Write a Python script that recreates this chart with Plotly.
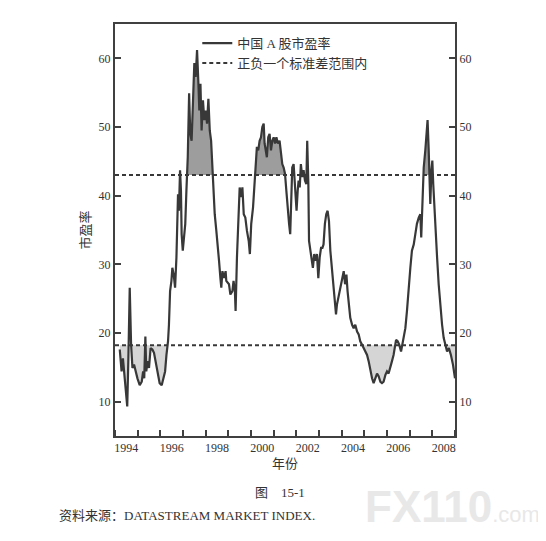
import plotly.graph_objects as go

# ---- data (decimal years, P/E) ----
YEARS = [
    1994.21, 1994.29, 1994.35, 1994.41, 1994.54, 1994.59, 1994.65, 1994.71, 1994.77, 1994.84,
    1994.91, 1994.99, 1995.09, 1995.18, 1995.24, 1995.29, 1995.34, 1995.38, 1995.44, 1995.50,
    1995.57, 1995.65, 1995.72, 1995.79, 1995.87, 1995.97, 1996.06, 1996.13, 1996.21, 1996.27,
    1996.34, 1996.38, 1996.43, 1996.49, 1996.53, 1996.59, 1996.65, 1996.71, 1996.75, 1996.78,
    1996.82, 1996.87, 1996.91, 1996.94, 1996.99, 1997.04, 1997.10, 1997.15, 1997.21, 1997.27,
    1997.32, 1997.38, 1997.44, 1997.50, 1997.56, 1997.62, 1997.68, 1997.72, 1997.77, 1997.82,
    1997.88, 1997.94, 1998.00, 1998.06, 1998.12, 1998.18, 1998.24, 1998.29, 1998.34, 1998.40,
    1998.47, 1998.53, 1998.59, 1998.65, 1998.69, 1998.74, 1998.81, 1998.88, 1998.91, 1999.03,
    1999.09, 1999.18, 1999.23, 1999.29, 1999.32, 1999.38, 1999.44, 1999.50, 1999.56, 1999.62,
    1999.68, 1999.75, 1999.82, 1999.90, 1999.95, 2000.01, 2000.09, 2000.15, 2000.20, 2000.26,
    2000.32, 2000.38, 2000.44, 2000.50, 2000.56, 2000.60, 2000.65, 2000.70, 2000.76, 2000.82,
    2000.88, 2000.94, 2001.00, 2001.06, 2001.12, 2001.19, 2001.26, 2001.32, 2001.38, 2001.44,
    2001.50, 2001.56, 2001.62, 2001.68, 2001.73, 2001.78, 2001.82, 2001.88, 2001.93, 2001.97,
    2002.01, 2002.06, 2002.10, 2002.15, 2002.20, 2002.26, 2002.32, 2002.38, 2002.44, 2002.48,
    2002.53, 2002.56, 2002.62, 2002.68, 2002.73, 2002.79, 2002.85, 2002.91, 2002.97, 2003.03,
    2003.09, 2003.15, 2003.20, 2003.26, 2003.32, 2003.38, 2003.44, 2003.50, 2003.56, 2003.62,
    2003.69, 2003.75, 2003.79, 2003.85, 2003.91, 2004.01, 2004.09, 2004.15, 2004.21, 2004.26,
    2004.32, 2004.38, 2004.46, 2004.53, 2004.60, 2004.68, 2004.75, 2004.82, 2004.90, 2004.97,
    2005.04, 2005.12, 2005.19, 2005.26, 2005.34, 2005.41, 2005.48, 2005.56, 2005.63, 2005.71,
    2005.78, 2005.85, 2005.93, 2006.00, 2006.07, 2006.15, 2006.22, 2006.29, 2006.34, 2006.40,
    2006.47, 2006.54, 2006.62, 2006.68, 2006.73, 2006.81, 2006.88, 2006.96, 2007.03, 2007.10,
    2007.18, 2007.25, 2007.32, 2007.40, 2007.47, 2007.51, 2007.56, 2007.62, 2007.69, 2007.73,
    2007.79, 2007.84, 2007.88, 2007.91, 2007.96, 2008.00, 2008.04, 2008.09, 2008.15, 2008.21,
    2008.28, 2008.35, 2008.43, 2008.50, 2008.59, 2008.65, 2008.73, 2008.82, 2008.91, 2009.00,
]
PE = [
    17.6, 14.4, 16.3, 14.4, 9.3, 16.3, 26.6, 18.3, 14.9, 15.4,
    14.4, 13.4, 12.4, 12.9, 14.4, 13.4, 19.5, 14.4, 15.9, 14.9,
    17.8, 17.6, 17.1, 15.9, 14.4, 12.7, 12.4, 13.4, 14.4, 16.8,
    18.8, 21.2, 26.1, 27.6, 29.5, 28.5, 26.6, 31.0, 35.9, 40.2,
    37.8, 43.7, 40.7, 34.4, 32.0, 33.4, 35.9, 40.7, 45.6, 54.9,
    49.0, 48.0, 54.4, 59.3, 57.3, 61.2, 56.3, 52.4, 56.3, 49.5,
    53.9, 51.0, 52.4, 50.5, 54.1, 49.5, 48.0, 44.6, 41.7, 37.3,
    34.9, 32.0, 30.5, 28.0, 26.6, 29.0, 28.0, 29.0, 27.6, 27.1,
    25.6, 26.1, 27.6, 26.1, 23.2, 31.0, 37.8, 41.2, 39.8, 41.2,
    37.3, 36.8, 34.9, 33.4, 31.5, 35.9, 38.3, 41.7, 44.6, 47.1,
    46.6, 48.0, 48.5, 50.0, 50.5, 47.6, 46.6, 45.6, 48.5, 49.0,
    46.6, 48.0, 48.5, 47.6, 48.5, 47.6, 48.0, 46.1, 44.6, 44.1,
    43.2, 40.7, 37.8, 35.9, 34.4, 40.7, 44.1, 44.6, 41.7, 39.8,
    37.8, 40.7, 42.2, 41.2, 44.6, 42.7, 43.7, 42.2, 41.7, 48.0,
    41.7, 33.4, 32.0, 31.0, 29.5, 31.5, 30.5, 31.5, 28.0, 31.0,
    32.4, 32.4, 32.9, 35.9, 37.3, 37.8, 36.3, 32.0, 29.5, 27.1,
    25.1, 22.7, 24.1, 25.1, 26.1, 28.0, 29.0, 27.1, 28.5, 26.1,
    23.7, 22.2, 21.2, 20.7, 21.2, 20.2, 19.8, 18.8, 18.3, 17.8,
    17.3, 16.8, 15.9, 14.4, 13.4, 12.7, 13.4, 14.1, 13.7, 12.9,
    12.7, 12.9, 13.9, 14.4, 14.1, 14.9, 15.9, 16.8, 18.0, 19.0,
    18.8, 18.3, 17.3, 18.3, 19.3, 20.7, 23.2, 27.1, 29.5, 32.0,
    32.9, 34.4, 35.9, 36.8, 37.3, 33.9, 39.8, 44.1, 46.6, 48.5,
    51.0, 46.6, 42.2, 38.8, 43.7, 45.1, 41.7, 37.8, 33.9, 31.0,
    27.1, 24.1, 21.2, 19.3, 18.3, 17.3, 17.8, 16.8, 15.4, 13.4,
]
BAND_UPPER = 43.0
BAND_LOWER = 18.2
X_RANGE = [1994, 2009]
Y_RANGE = [5, 65]
Y_TICKS = [10, 20, 30, 40, 50, 60]
X_LABEL_YEARS = [1994, 1996, 1998, 2000, 2002, 2004, 2006, 2008]
X_LABELS = [str(y) for y in X_LABEL_YEARS]

SERIES_NAME = "中国 A 股市盈率"
BAND_NAME = "正负一个标准差范围内"
X_TITLE = "年份"
Y_TITLE = "市盈率"
CAPTION = "图　15-1"
SOURCE = "资料来源：DATASTREAM MARKET INDEX."

FONT = "Liberation Serif, Noto Sans CJK SC, serif"
INK = "#383838"


def clipped(xs, ys, thr, above):
    """Series clipped at a threshold, with crossing points inserted (for shading)."""
    px, py = [], []
    for i, (x, y) in enumerate(zip(xs, ys)):
        if i:
            x0, y0 = xs[i - 1], ys[i - 1]
            if (y0 - thr) * (y - thr) < 0:
                t = (thr - y0) / (y - y0)
                px.append(x0 + t * (x - x0))
                py.append(thr)
        px.append(x)
        py.append(max(y, thr) if above else min(y, thr))
    return px, py


fig = go.Figure()

for thr, above, col in [(BAND_UPPER, True, "#9d9d9d"), (BAND_LOWER, False, "#d5d5d5")]:
    cx, cy = clipped(YEARS, PE, thr, above)
    fig.add_trace(go.Scatter(x=cx, y=[thr] * len(cx), mode="lines", line=dict(width=0),
                             showlegend=False, hoverinfo="skip"))
    fig.add_trace(go.Scatter(x=cx, y=cy, mode="lines", line=dict(width=0), fill="tonexty",
                             fillcolor=col, showlegend=False, hoverinfo="skip"))

fig.add_trace(go.Scatter(x=YEARS, y=PE, mode="lines", name=SERIES_NAME,
                         line=dict(color=INK, width=2.2)))
fig.add_trace(go.Scatter(x=X_RANGE, y=[BAND_UPPER] * 2, mode="lines", name=BAND_NAME,
                         legendgroup="band", line=dict(color=INK, width=2, dash="4px,3px")))
fig.add_trace(go.Scatter(x=X_RANGE, y=[BAND_LOWER] * 2, mode="lines", name=BAND_NAME,
                         legendgroup="band", showlegend=False,
                         line=dict(color=INK, width=2, dash="4px,3px")))
# carrier for the right-hand axis
fig.add_trace(go.Scatter(x=[X_RANGE[0]], y=[None], yaxis="y2", mode="lines",
                         showlegend=False, hoverinfo="skip"))

axis_common = dict(showline=True, linecolor="#404040", linewidth=2, showgrid=False,
                   zeroline=False, automargin=False)

fig.update_layout(
    width=546, height=541,
    margin=dict(l=107, r=99, t=16, b=113, autoexpand=False),
    plot_bgcolor="white", paper_bgcolor="white",
    font=dict(family=FONT, size=12, color="#333333"),
    xaxis=dict(range=X_RANGE, tickvals=[y + 0.5 for y in X_LABEL_YEARS], ticktext=X_LABELS,
               ticks="", mirror=True,
               minor=dict(tick0=1994, dtick=1, ticks="inside", ticklen=6, tickwidth=2,
                          tickcolor="#404040", showgrid=False),
               title=dict(text=X_TITLE, font=dict(size=13), standoff=4),
               **axis_common),
    yaxis=dict(range=Y_RANGE, tickvals=Y_TICKS, ticks="inside", ticklen=6, tickwidth=2,
               tickcolor="#404040", title=dict(text=Y_TITLE, font=dict(size=13), standoff=5),
               **axis_common),
    yaxis2=dict(range=Y_RANGE, overlaying="y", side="right", tickvals=Y_TICKS, ticks="inside",
                ticklen=6, tickwidth=2, tickcolor="#404040", **axis_common),
    legend=dict(x=0.242, y=0.99, xanchor="left", yanchor="top", bgcolor="rgba(0,0,0,0)",
                font=dict(size=13), itemwidth=30, tracegroupgap=0),
    annotations=[
        dict(text=CAPTION, xref="paper", yref="paper", x=0.485, y=-0.138, xanchor="center",
             yanchor="middle", showarrow=False, font=dict(size=13)),
        dict(text=SOURCE, xref="paper", yref="paper", x=-0.17, y=-0.193, xanchor="left",
             yanchor="middle", showarrow=False, font=dict(size=13)),
        dict(text="<b>FX110</b><span style='font-size:22px'>.com</span>", xref="paper",
             yref="paper", x=0.992, y=-0.17, xanchor="center", yanchor="middle",
             showarrow=False, font=dict(size=44, family="Liberation Sans", color="#e8e8e8")),
    ],
)

fig.write_html("out.html")
